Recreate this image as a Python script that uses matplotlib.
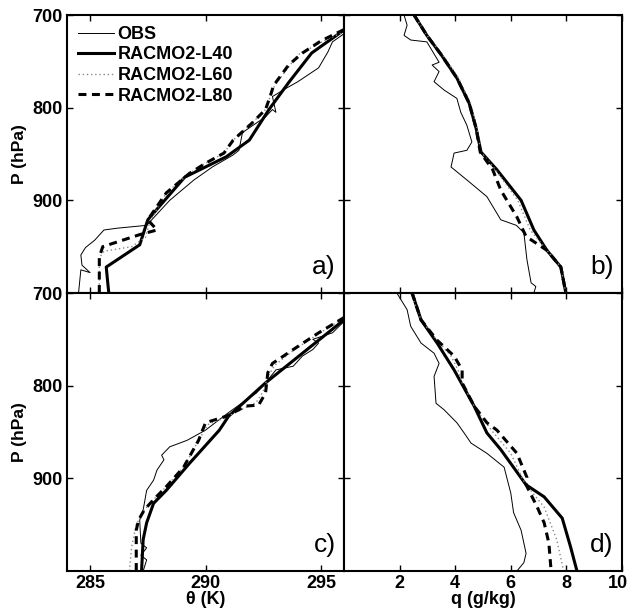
import matplotlib
matplotlib.use("Agg")
import matplotlib.pyplot as plt
from matplotlib.transforms import ScaledTranslation

plt.rcParams['font.family'] = ['Liberation Sans', 'DejaVu Sans']

# ---- panel a: theta (K) vs P (hPa) ----
a_obs_t = [284.5, 284.6, 285.0, 284.65, 284.6, 284.8, 285.2, 285.6, 286.2, 287.45, 288.45, 289.5,
           290.3, 291.2, 291.45, 291.6, 292.0, 292.6, 292.9, 293.05, 292.9, 293.5, 294.0, 294.9,
           295.3, 295.5, 295.9, 296.3]
a_obs_p = [1000, 975, 978, 970, 959, 951, 943, 932, 930, 927, 900, 878,
           864, 851, 846, 827, 820, 810, 802, 805, 788, 779, 772, 757,
           740, 729, 722, 715]
a_l40_t = [285.81, 285.75, 285.7, 287.15, 287.5, 289.1, 290.9, 291.9, 292.75, 293.6, 294.6, 295.9, 296.3]
a_l40_p = [1000, 985, 972, 948, 921, 875, 853, 835, 802, 773, 741, 718, 712]
a_l60_t = [285.4, 285.4, 285.6, 286.8, 287.4, 287.6, 288.3, 289.3, 290.0, 290.8, 291.2, 292.0,
           292.6, 292.8, 293.0, 293.6, 294.0, 295.2, 296.3]
a_l60_p = [1000, 962, 955, 950, 940, 922, 892, 871, 860, 849, 835, 817,
           802, 788, 776, 756, 743, 727, 715]
a_l80_t = [285.4, 285.4, 285.55, 287.15, 287.9, 287.5, 288.3, 289.3, 290.0, 290.8, 291.2, 292.0,
           292.6, 292.8, 292.95, 293.6, 294.2, 295.0, 296.3]
a_l80_p = [1000, 961, 950, 937, 932, 921, 892, 871, 860, 849, 835, 817,
           802, 788, 776, 754, 741, 728, 712]

# ---- panel b: q (g/kg) vs P (hPa) ----
b_obs_q = [2.16, 2.27, 2.16, 2.4, 2.98, 3.42, 3.17, 3.42, 3.24, 3.6, 4.06, 4.2, 4.42, 4.6, 4.42,
           3.96, 3.85, 4.42, 5.14, 5.64, 6.2, 6.47, 6.58, 6.73, 6.9, 6.83]
b_obs_p = [700, 711, 722, 727, 729, 751, 754, 761, 772, 781, 790, 805, 819, 837, 846,
           849, 864, 878, 896, 921, 927, 935, 964, 989, 993, 1000]
b_l40_q = [2.52, 2.98, 3.5, 4.06, 4.5, 4.75, 4.93, 5.5, 6.37, 6.83, 7.3, 7.8, 7.98]
b_l40_p = [700, 722, 743, 768, 795, 822, 848, 867, 900, 932, 954, 972, 1000]
b_l60_q = [2.52, 2.98, 3.55, 4.12, 4.55, 4.78, 4.93, 5.45, 6.25, 6.7, 7.3, 7.8, 7.98]
b_l60_p = [700, 722, 743, 768, 795, 822, 848, 867, 900, 932, 954, 972, 1000]
b_l80_q = [2.52, 2.98, 3.5, 4.06, 4.5, 4.75, 4.9, 5.35, 5.64, 6.22, 6.55, 7.3, 7.8, 7.98]
b_l80_p = [700, 722, 743, 768, 795, 822, 848, 867, 889, 918, 939, 954, 972, 1000]

# ---- panel c: theta (K) vs P (hPa) ----
c_obs_t = [287.3, 287.45, 287.2, 287.45, 287.2, 287.15, 287.3, 287.45, 287.75, 287.9, 288.2, 288.1,
           288.45, 289.2, 290.0, 291.0, 291.45, 292.2, 292.6, 293.05, 293.8, 294.2, 294.65, 294.9,
           294.65, 295.5, 295.95, 296.3]
c_obs_p = [1000, 988, 983, 975, 970, 945, 934, 913, 902, 891, 880, 875,
           866, 859, 848, 829, 821, 808, 797, 783, 779, 768, 761, 754,
           750, 743, 732, 725]
c_l40_t = [287.23, 287.3, 287.45, 287.75, 288.3, 289.3, 290.6, 291.0, 292.6, 294.05, 295.95, 296.3]
c_l40_p = [1000, 966, 948, 927, 913, 884, 848, 833, 797, 768, 730, 723]
c_l60_t = [286.7, 286.8, 287.0, 287.35, 287.75, 288.3, 289.05, 289.7, 290.1, 290.9, 291.7, 292.2,
           292.5, 292.7, 293.0, 293.8, 294.9, 296.3]
c_l60_p = [1000, 974, 950, 934, 923, 909, 888, 859, 842, 834, 824, 818,
           806, 790, 778, 762, 744, 722]
c_l80_t = [287.0, 287.0, 287.1, 287.35, 287.75, 288.3, 289.05, 289.7, 290.0, 290.9, 291.75, 292.3,
           292.6, 292.7, 292.9, 293.8, 294.9, 296.3]
c_l80_p = [1000, 956, 945, 934, 923, 909, 888, 859, 840, 833, 822, 821,
           808, 786, 776, 761, 743, 722]

# ---- panel d: q (g/kg) vs P (hPa) ----
d_obs_q = [1.9, 2.27, 2.4, 2.77, 3.24, 3.42, 3.24, 3.31, 3.6, 4.06, 4.32, 4.57, 5.14, 5.76,
           6.0, 6.1, 6.37, 6.55, 6.47, 6.22]
d_obs_p = [700, 718, 736, 754, 765, 776, 790, 819, 826, 840, 851, 862, 873, 888,
           916, 937, 956, 981, 991, 1000]
d_l40_q = [2.45, 2.77, 3.35, 3.96, 4.68, 5.14, 5.64, 6.55, 7.2, 7.85, 8.15, 8.38]
d_l40_p = [700, 729, 754, 783, 822, 851, 869, 907, 920, 943, 974, 1000]
d_l60_q = [2.4, 2.77, 3.35, 3.85, 4.1, 4.25, 4.68, 5.3, 6.0, 6.4, 6.55, 7.2, 7.65, 7.9]
d_l60_p = [700, 729, 751, 768, 783, 797, 822, 848, 873, 899, 907, 931, 966, 1000]
d_l80_q = [2.45, 2.77, 3.35, 3.96, 4.25, 4.25, 4.68, 5.14, 5.5, 6.22, 6.58, 6.55, 6.95, 7.2, 7.37, 7.45]
d_l80_p = [700, 729, 751, 768, 783, 797, 822, 840, 848, 873, 899, 907, 931, 948, 970, 1000]

theta_ticks = [285, 290, 295]
q_ticks = [2, 4, 6, 8, 10]
p_ticks = [700, 800, 900]
panel_tags = ['a)', 'b)', 'c)', 'd)']
series_names = ['OBS', 'RACMO2-L40', 'RACMO2-L60', 'RACMO2-L80']

fig = plt.figure(figsize=(6.3, 6.14), dpi=100)
W, H = 630, 614

def add_panel(x0, y0, x1, y1):
    return fig.add_axes([x0 / W, 1 - y1 / H, (x1 - x0) / W, (y1 - y0) / H])

ax_a = add_panel(67, 15, 344, 293)
ax_b = add_panel(344, 15, 622, 293)
ax_c = add_panel(67, 293, 344, 571)
ax_d = add_panel(344, 293, 622, 571)

data = [
    (ax_a, [(a_obs_t, a_obs_p), (a_l40_t, a_l40_p), (a_l60_t, a_l60_p), (a_l80_t, a_l80_p)]),
    (ax_b, [(b_obs_q, b_obs_p), (b_l40_q, b_l40_p), (b_l60_q, b_l60_p), (b_l80_q, b_l80_p)]),
    (ax_c, [(c_obs_t, c_obs_p), (c_l40_t, c_l40_p), (c_l60_t, c_l60_p), (c_l80_t, c_l80_p)]),
    (ax_d, [(d_obs_q, d_obs_p), (d_l40_q, d_l40_p), (d_l60_q, d_l60_p), (d_l80_q, d_l80_p)]),
]

styles = [
    dict(color='black', lw=0.7, ls='-'),
    dict(color='black', lw=2.2, ls='-'),
    dict(color='#888888', lw=1.0, ls=(0, (1, 2))),
    dict(color='black', lw=2.2, ls=(0, (2.6, 1.8))),
]

for i, (ax, series) in enumerate(data):
    for (x, p), st, name in zip(series, styles, series_names):
        ax.plot(x, p, label=name, **st)
    ax.set_ylim(1000, 700)
    ax.set_yticks(p_ticks)
    if i in (0, 2):
        ax.set_xlim(284, 296)
        ax.set_xticks(theta_ticks)
    else:
        ax.set_xlim(0, 10)
        ax.set_xticks(q_ticks)
        ax.set_yticklabels([])
    if i in (0, 1):
        ax.set_xticklabels([])
    ax.tick_params(direction='in', top=True, right=True, length=4, width=1,
                   labelsize=13, pad=3)
    for lab in ax.get_xticklabels() + ax.get_yticklabels():
        lab.set_fontweight('bold')
    for sp in ax.spines.values():
        sp.set_linewidth(1.5)
    ax.text(0.97, 0.05, panel_tags[i], transform=ax.transAxes, ha='right', va='bottom',
            fontsize=19)

# keep the "10" label inside the figure edge
last = ax_d.get_xticklabels()[-1]
last.set_transform(last.get_transform() + ScaledTranslation(-4 / 100, 0, fig.dpi_scale_trans))

ax_a.set_ylabel('P (hPa)', fontsize=12.5, fontweight='bold', labelpad=4)
ax_c.set_ylabel('P (hPa)', fontsize=12.5, fontweight='bold', labelpad=4)
ax_c.set_xlabel('θ (K)', fontsize=13, fontweight='bold', labelpad=-1)
ax_d.set_xlabel('q (g/kg)', fontsize=13, fontweight='bold', labelpad=-1)

leg = ax_a.legend(loc='upper left', frameon=False, handlelength=2.0, handletextpad=0.2,
                  borderaxespad=0.2, labelspacing=0.2, prop=dict(size=13, weight='bold'))

fig.savefig('out.png', dpi=100)
